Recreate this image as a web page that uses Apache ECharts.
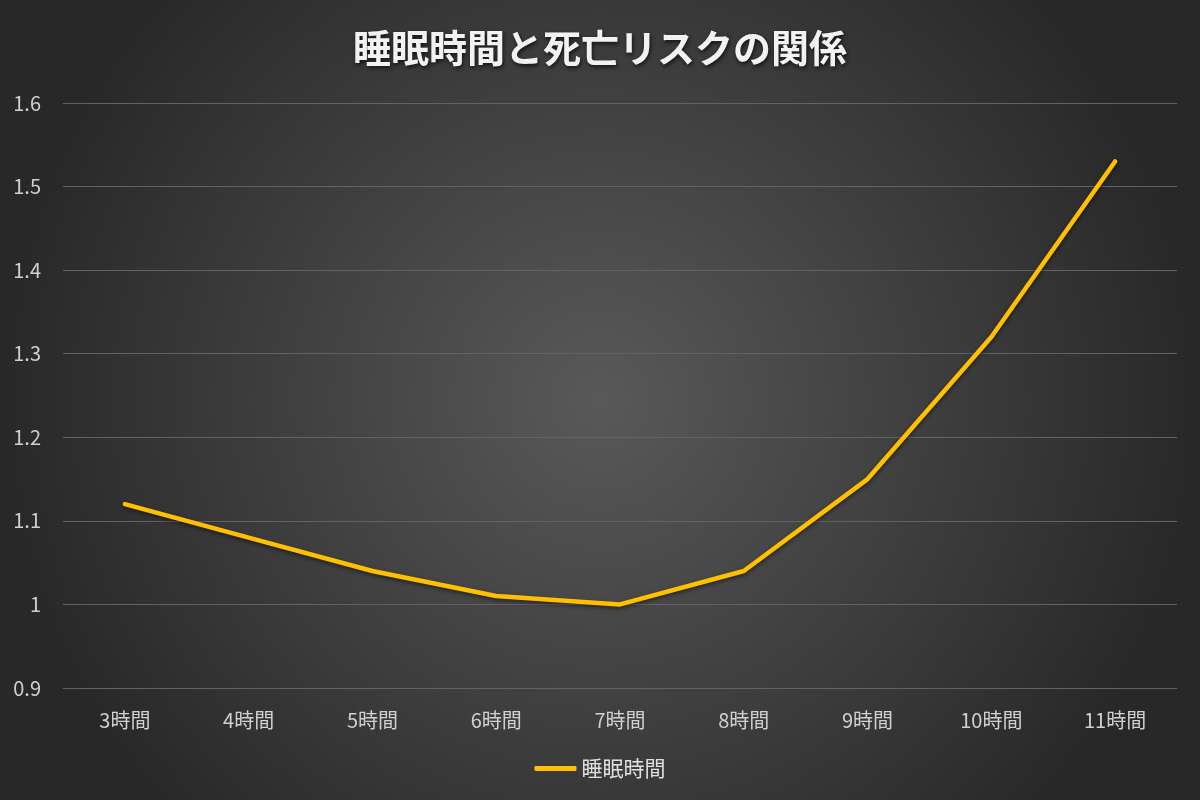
<!DOCTYPE html>
<html><head><meta charset="utf-8">
<script src="https://cdn.jsdelivr.net/npm/echarts@6/dist/echarts.min.js"></script>
<style>html,body{margin:0;padding:0;}#c{width:1200px;height:800px;}</style>
</head><body><div id="c"></div>
<script>
const titleText = '睡眠時間と死亡リスクの関係';
const seriesName = '睡眠時間';
const categories = ['3時間','4時間','5時間','6時間','7時間','8時間','9時間','10時間','11時間'];
const values = [1.12, 1.08, 1.04, 1.01, 1.00, 1.04, 1.15, 1.32, 1.53];
const yMin = 0.9, yMax = 1.6, yStep = 0.1;

const chart = echarts.init(document.getElementById('c'));
const font = '"Noto Sans CJK JP", "Noto Sans", sans-serif';
chart.setOption({
  backgroundColor: {
    type: 'radial', x: 0.5, y: 0.5, r: 0.75,
    colorStops: [{offset: 0, color: '#595959'}, {offset: 1, color: '#282828'}]
  },
  title: {
    text: titleText, left: 'center', top: 24,
    textStyle: {
      color: '#f2f2f2', fontSize: 38, fontWeight: 'bold', fontFamily: font,
      textShadowColor: 'rgba(0,0,0,0.7)', textShadowBlur: 4, textShadowOffsetX: 1, textShadowOffsetY: 2
    }
  },
  legend: {
    bottom: 16, left: 'center', itemWidth: 42, itemHeight: 5, itemGap: 2,
    icon: 'roundRect',
    textStyle: {color: '#e0e0e0', fontSize: 21, fontFamily: font},
    data: [seriesName]
  },
  grid: {left: 63, right: 23, top: 103, bottom: 112, containLabel: false},
  xAxis: {
    type: 'category', data: categories, boundaryGap: true,
    axisLine: {show: false}, axisTick: {show: false},
    axisLabel: {color: '#d0d0d0', fontSize: 20, margin: 22, fontFamily: font}
  },
  yAxis: {
    type: 'value', min: yMin, max: yMax, interval: yStep,
    axisLine: {show: false}, axisTick: {show: false},
    axisLabel: {color: '#d0d0d0', fontSize: 20, margin: 22, fontFamily: font,
      formatter: v => String(Math.round(v * 10) / 10)},
    splitLine: {lineStyle: {color: '#626262', width: 1}}
  },
  series: [{
    name: seriesName, type: 'line', data: values, smooth: false,
    symbol: 'none',
    itemStyle: {color: '#FFC000'},
    lineStyle: {color: '#FFC000', width: 4.5, shadowColor: 'rgba(0,0,0,0.5)', shadowBlur: 4, shadowOffsetY: 2, cap: 'round', join: 'round'}
  }]
});
</script></body></html>
